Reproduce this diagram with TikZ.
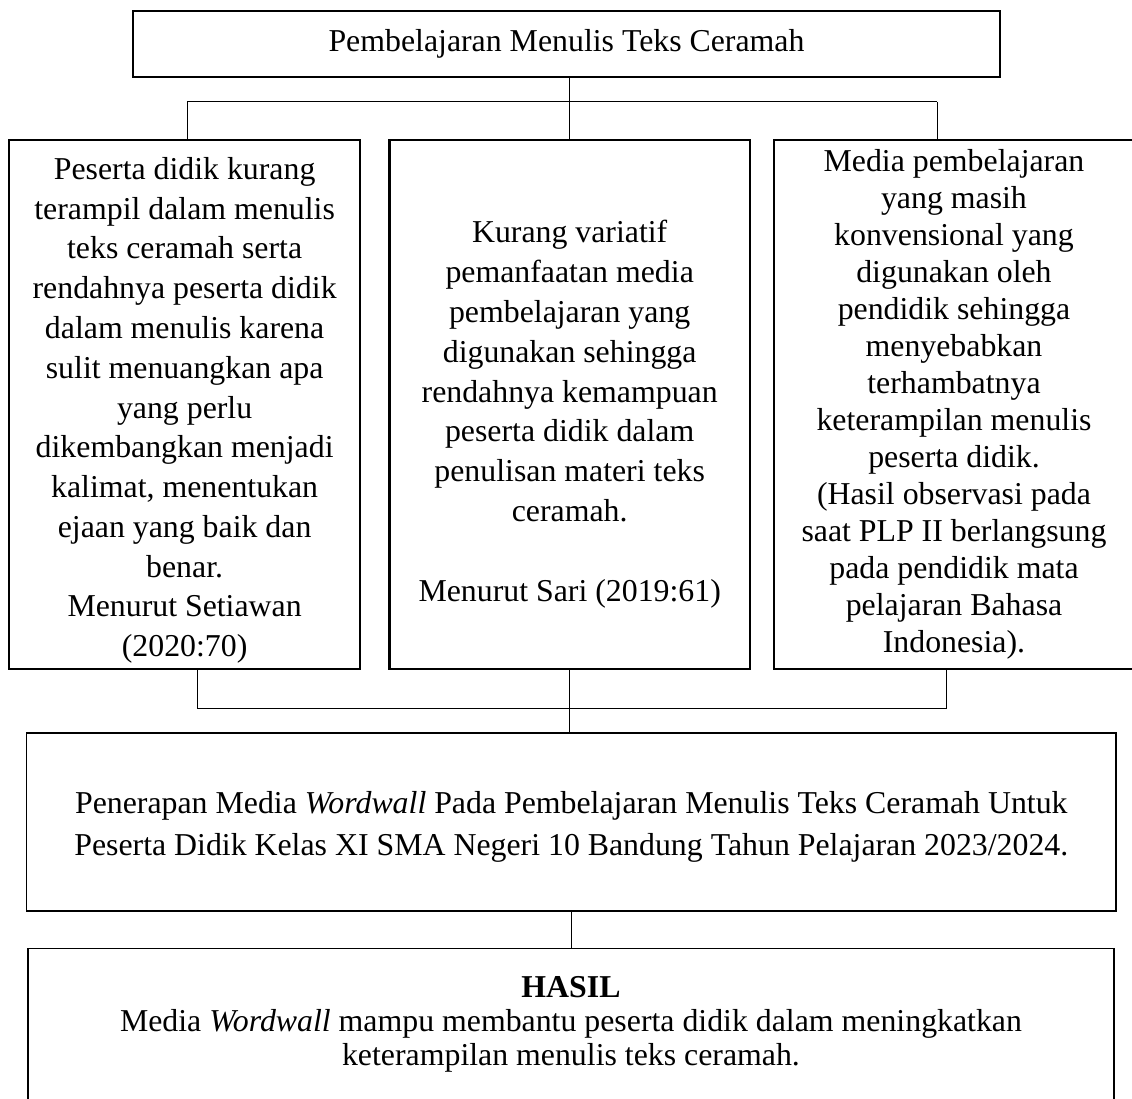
\documentclass[tikz,border=0pt]{standalone}
\usepackage{fontspec}
\setmainfont{Liberation Serif}
\usepackage{tikz}
\usetikzlibrary{positioning,calc}

\begin{document}
\begin{tikzpicture}[
    box/.style={draw, line width=0.6pt, align=center, inner sep=0pt},
    tallbox/.style={draw, line width=1.2pt, align=center, inner sep=0pt, minimum height=9.346cm},
    link/.style={line width=0.5pt}
  ]
    \useasboundingbox (0,0) rectangle (20,-19.417);

    % Title
    \node[box, minimum width=15.318cm, minimum height=1.166cm, font=\fontsize{16}{20}\selectfont] (t) at (10.009,-0.777) {Pembelajaran Menulis Teks Ceramah};

    % Three problems
    \node[tallbox, minimum width=6.196cm, font=\fontsize{16}{20}\selectfont] (a) at (3.262,-7.147) {\rule{0pt}{17pt}Peserta didik kurang\\ terampil dalam menulis\\ teks ceramah serta\\ rendahnya peserta didik\\ dalam menulis karena\\ sulit menuangkan apa\\ yang perlu\\ dikembangkan menjadi\\ kalimat, menentukan\\ ejaan yang baik dan\\ benar.\\ Menurut Setiawan\\ (2020:70)};
    \node[tallbox, minimum width=6.373cm, font=\fontsize{16}{20}\selectfont] (b) at (10.065,-7.147) {\rule{0pt}{21pt}Kurang variatif\\ pemanfaatan media\\ pembelajaran yang\\ digunakan sehingga\\ rendahnya kemampuan\\ peserta didik dalam\\ penulisan materi teks\\ ceramah.\\[20pt] Menurut Sari (2019:61)};
    \node[tallbox, minimum width=6.360cm, font=\fontsize{16}{18.6}\selectfont] (c) at (16.855,-7.147) {Media pembelajaran\\ yang masih\\ konvensional yang\\ digunakan oleh\\ pendidik sehingga\\ menyebabkan\\ terhambatnya\\ keterampilan menulis\\ peserta didik.\\ (Hasil observasi pada\\ saat PLP II berlangsung\\ pada pendidik mata\\ pelajaran Bahasa\\ Indonesia).};

    % Title to problems
    \coordinate (t1) at (3.304,-1.802);
    \coordinate (t3) at (16.555,-1.802);
    \draw[link] (t1) -- (t3);
    \draw[link] (t1) -- (t1 |- a.north);
    \draw[link] (t3) -- (t3 |- c.north);
    \draw[link] (t.south -| b.north) -- (b.north);

    % Solution
    \node[box, minimum width=19.246cm, minimum height=3.145cm, font=\fontsize{16}{21}\selectfont] (d) at (10.094,-14.523) {\rule{0pt}{16pt}Penerapan Media \textit{Wordwall} Pada Pembelajaran Menulis Teks Ceramah Untuk\\ Peserta Didik Kelas XI SMA Negeri 10 Bandung Tahun Pelajaran 2023/2024.};

    % Problems to solution
    \coordinate (u1) at (3.481,-12.518);
    \coordinate (u3) at (16.731,-12.518);
    \draw[link] (u1 |- a.south) -- (u1) -- (u3) -- (u3 |- c.south);
    \draw[link] (b.south) -- (b.south |- d.north);

    % Result
    \node[box, anchor=north, minimum width=19.187cm, minimum height=2.9cm] (e) at (10.088,-16.749) {};
    \node[align=center, inner sep=0pt, font=\fontsize{16}{17.2}\selectfont] (h) at (10.088,-18.10) {\textbf{HASIL}\\ Media \textit{Wordwall} mampu membantu peserta didik dalam meningkatkan\\ keterampilan menulis teks ceramah.};
    \draw[link] (d.south) -- (d.south |- e.north);
\end{tikzpicture}
\end{document}
